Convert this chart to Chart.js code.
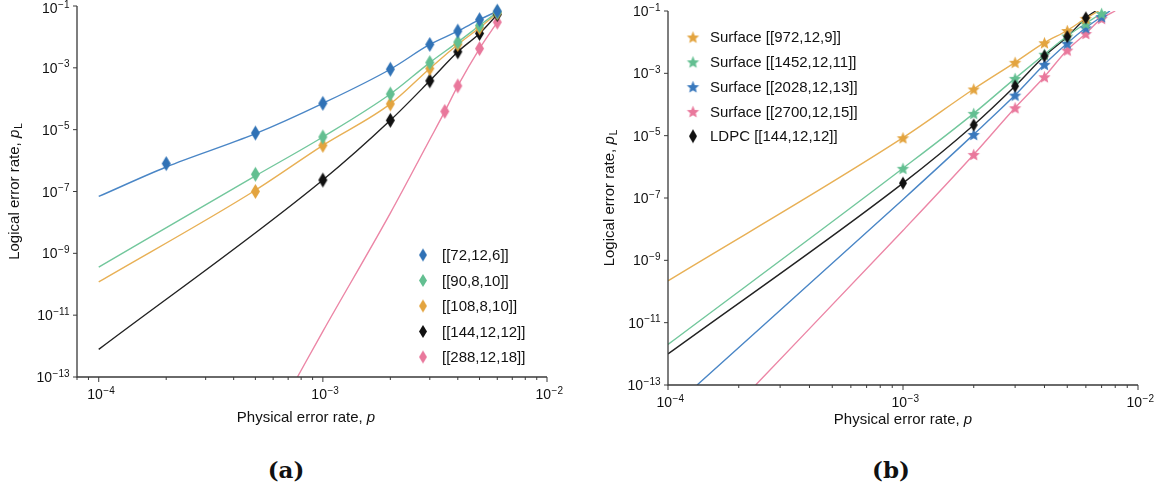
<!DOCTYPE html>
<html>
<head>
<meta charset="utf-8">
<script src="https://cdn.jsdelivr.net/npm/chart.js@4.4.1/dist/chart.umd.min.js"></script>
<style>
  html, body { margin: 0; padding: 0; background: #fff; }
  body { width: 1164px; height: 492px; position: relative; overflow: hidden; }
  #chartA { position: absolute; left: 0; top: 0; }
  #chartB { position: absolute; left: 590px; top: 0; }
  .cap { position: absolute; top: 456px; width: 80px; text-align: center; line-height: 28px;
         font: bold 23px "DejaVu Serif", serif; color: #111; }
</style>
</head>
<body>
<canvas id="chartA" width="580" height="440"></canvas>
<canvas id="chartB" width="574" height="440"></canvas>
<div class="cap" style="left:246px">(a)</div>
<div class="cap" style="left:851px">(b)</div>
<script>
// ---- panel (a): bivariate bicycle codes ----
const labelsA = ['[[72,12,6]]', '[[90,8,10]]', '[[108,8,10]]', '[[144,12,12]]', '[[288,12,18]]'];
const colorsA = ['#3072b6', '#63bf91', '#e3a43f', '#111111', '#e9789c'];

const p72 = [2e-4, 5e-4, 1e-3, 2e-3, 3e-3, 4e-3, 5e-3, 6e-3];
const pl72 = [8.0e-7, 7.8e-6, 7.1e-5, 9.0e-4, 5.7e-3, 1.54e-2, 3.6e-2, 6.8e-2];
const fitP72 = [1e-4, 2e-4, 5e-4, 1e-3, 2e-3, 3e-3, 4e-3, 5e-3, 6e-3];
const fitPl72 = [6.9e-8, 6.2e-7, 7.4e-6, 7.1e-5, 9.0e-4, 5.7e-3, 1.54e-2, 3.6e-2, 6.8e-2];

const p90 = [5e-4, 1e-3, 2e-3, 3e-3, 4e-3, 5e-3, 6e-3];
const pl90 = [3.6e-7, 5.8e-6, 1.42e-4, 1.48e-3, 6.8e-3, 2.33e-2, 6.3e-2];
const fitP90 = [1e-4, 5e-4, 1e-3, 2e-3, 3e-3, 4e-3, 5e-3, 6e-3];
const fitPl90 = [3.6e-10, 3.2e-7, 5.8e-6, 1.42e-4, 1.48e-3, 6.8e-3, 2.33e-2, 6.3e-2];

const p108 = [5e-4, 1e-3, 2e-3, 3e-3, 4e-3, 5e-3, 6e-3];
const pl108 = [1.0e-7, 3.1e-6, 6.8e-5, 9.5e-4, 5.7e-3, 1.97e-2, 5.96e-2];
const fitP108 = [1e-4, 5e-4, 1e-3, 2e-3, 3e-3, 4e-3, 5e-3, 6e-3];
const fitPl108 = [1.19e-10, 1.1e-7, 3.1e-6, 6.8e-5, 9.5e-4, 5.7e-3, 1.97e-2, 5.96e-2];

const p144 = [1e-3, 2e-3, 3e-3, 4e-3, 5e-3, 6e-3];
const pl144 = [2.35e-7, 2.0e-5, 3.8e-4, 3.3e-3, 1.29e-2, 5.3e-2];
const fitP144 = [1e-4, 1e-3, 2e-3, 3e-3, 4e-3, 5e-3, 6e-3];
const fitPl144 = [7.8e-13, 2.35e-7, 2.0e-5, 3.8e-4, 3.3e-3, 1.29e-2, 5.3e-2];

const p288 = [3.5e-3, 4e-3, 5e-3, 6e-3];
const pl288 = [3.9e-5, 2.6e-4, 4.2e-3, 3.0e-2];
const fitP288 = [7.7e-4, 1e-3, 2e-3, 3e-3, 3.5e-3, 4e-3, 5e-3, 6e-3];
const fitPl288 = [1e-13, 3.0e-12, 2.0e-8, 4.8e-6, 3.9e-5, 2.6e-4, 4.2e-3, 3.0e-2];

// ---- panel (b): surface codes vs LDPC ----
const labelsB = ['Surface [[972,12,9]]', 'Surface [[1452,12,11]]', 'Surface [[2028,12,13]]', 'Surface [[2700,12,15]]', 'LDPC [[144,12,12]]'];
const colorsB = ['#e3a43f', '#63bf91', '#3a79bd', '#e9789c', '#111111'];

const pS9 = [1e-3, 2e-3, 3e-3, 4e-3, 5e-3, 6e-3];
const plS9 = [8.6e-6, 3.15e-4, 2.26e-3, 9.6e-3, 2.37e-2, 5.8e-2];
const fitPS9 = [1e-4, 1e-3, 2e-3, 3e-3, 4e-3, 5e-3, 6e-3, 6.8e-3];
const fitPlS9 = [2.2e-10, 8.6e-6, 3.15e-4, 2.26e-3, 9.6e-3, 2.37e-2, 5.8e-2, 1e-1];

const pS11 = [1e-3, 2e-3, 3e-3, 4e-3, 5e-3, 6e-3, 7e-3];
const plS11 = [9.0e-7, 5.2e-5, 6.9e-4, 4.1e-3, 1.58e-2, 4.0e-2, 8.4e-2];
const fitPS11 = [1e-4, 1e-3, 2e-3, 3e-3, 4e-3, 5e-3, 6e-3, 7e-3, 7.3e-3];
const fitPlS11 = [2.0e-12, 9.0e-7, 5.2e-5, 6.9e-4, 4.1e-3, 1.58e-2, 4.0e-2, 8.4e-2, 1e-1];

const pS13 = [2e-3, 3e-3, 4e-3, 5e-3, 6e-3, 7e-3];
const plS13 = [1.1e-5, 2.0e-4, 1.95e-3, 9.2e-3, 2.9e-2, 6.6e-2];
const fitPS13 = [1.33e-4, 1e-3, 2e-3, 3e-3, 4e-3, 5e-3, 6e-3, 7e-3, 7.6e-3];
const fitPlS13 = [1e-13, 9.0e-8, 1.1e-5, 2.0e-4, 1.95e-3, 9.2e-3, 2.9e-2, 6.6e-2, 1e-1];

const pS15 = [2e-3, 3e-3, 4e-3, 5e-3, 6e-3, 7e-3];
const plS15 = [2.5e-6, 7.9e-5, 7.8e-4, 5.6e-3, 1.9e-2, 5.8e-2];
const fitPS15 = [2.36e-4, 1e-3, 2e-3, 3e-3, 4e-3, 5e-3, 6e-3, 7e-3, 8.0e-3];
const fitPlS15 = [1e-13, 9.1e-9, 2.5e-6, 7.9e-5, 7.8e-4, 5.6e-3, 1.9e-2, 5.8e-2, 1e-1];

const pLdpc = [1e-3, 2e-3, 3e-3, 4e-3, 5e-3, 6e-3];
const plLdpc = [3.0e-7, 2.2e-5, 3.9e-4, 3.6e-3, 1.5e-2, 6.0e-2];
const fitPLdpc = [1e-4, 1e-3, 2e-3, 3e-3, 4e-3, 5e-3, 6e-3, 6.6e-3];
const fitPlLdpc = [9.9e-13, 3.0e-7, 2.2e-5, 3.9e-4, 3.6e-3, 1.5e-2, 6.0e-2, 1e-1];

// axis ticks
const yTickExps = [-1, -3, -5, -7, -9, -11, -13];
const xTickExps = [-4, -3, -2];

const SANS = '"Liberation Sans", Arial, Helvetica, sans-serif';

function makeDiamond(color, w, h) {
    const c = document.createElement('canvas');
    c.width = w + 2; c.height = h + 2;
    const g = c.getContext('2d');
    g.fillStyle = color;
    g.beginPath();
    g.moveTo(c.width / 2, 1);
    g.lineTo(c.width - 1, c.height / 2);
    g.lineTo(c.width / 2, c.height - 1);
    g.lineTo(1, c.height / 2);
    g.closePath();
    g.fill();
    return c;
}

function makeStar(color, r) {
    const s = Math.ceil(r * 2 + 2);
    const c = document.createElement('canvas');
    c.width = s; c.height = s;
    const g = c.getContext('2d');
    g.fillStyle = color;
    g.beginPath();
    for (let i = 0; i < 10; i++) {
        const rad = i % 2 ? r * 0.45 : r;
        const ang = -Math.PI / 2 + i * Math.PI / 5;
        const px = s / 2 + rad * Math.cos(ang), py = s / 2 + 0.8 + rad * Math.sin(ang);
        i ? g.lineTo(px, py) : g.moveTo(px, py);
    }
    g.closePath();
    g.fill();
    return c;
}

const pts = (xs, ys) => xs.map((x, i) => ({ x, y: ys[i] }));

function fitLine(xs, ys, color) {
    return { data: pts(xs, ys), showLine: true, borderColor: color, borderWidth: 1.4,
             pointRadius: 0, cubicInterpolationMode: 'monotone', order: 2 };
}
function marks(xs, ys, img) {
    return { data: pts(xs, ys), showLine: false, pointStyle: img, pointRadius: 5, order: 1, clip: false };
}

function drawPow(ctx, exp, x, y, align) {
    const base = '10', sup = '\u2212' + Math.abs(exp);
    ctx.font = '14px ' + SANS;
    const wb = ctx.measureText(base).width;
    ctx.font = '10px ' + SANS;
    const ws = ctx.measureText(sup).width;
    const x0 = align === 'right' ? x - wb - ws : x - (wb + ws) / 2;
    ctx.textAlign = 'left';
    ctx.textBaseline = 'alphabetic';
    ctx.font = '14px ' + SANS;
    ctx.fillText(base, x0, y);
    ctx.font = '10px ' + SANS;
    ctx.fillText(sup, x0 + wb + 0.5, y - 5.5);
}

// plain text, then italic p, then optional subscript, centred at cx
function drawVarText(ctx, pre, sub, cx, y) {
    ctx.font = '15px ' + SANS;
    const w1 = ctx.measureText(pre).width;
    ctx.font = 'italic 15px ' + SANS;
    const w2 = ctx.measureText('p').width;
    ctx.font = '10px ' + SANS;
    const w3 = sub ? ctx.measureText(sub).width + 1 : 0;
    let x = cx - (w1 + w2 + w3) / 2;
    ctx.textAlign = 'left';
    ctx.textBaseline = 'alphabetic';
    ctx.font = '15px ' + SANS;
    ctx.fillText(pre, x, y);
    x += w1;
    ctx.font = 'italic 15px ' + SANS;
    ctx.fillText('p', x, y);
    x += w2 + 1;
    if (sub) {
        ctx.font = '10px ' + SANS;
        ctx.fillText(sub, x, y + 3);
    }
}

const frame = {
    id: 'frame',
    afterDraw(chart, args, o) {
        const { ctx, chartArea: a } = chart;
        const xs = chart.scales.x, ys = chart.scales.y;
        ctx.save();
        ctx.strokeStyle = '#3a3a3a';
        ctx.fillStyle = '#111';
        ctx.lineWidth = 1.3;
        ctx.beginPath();
        ctx.moveTo(a.left, a.top);
        ctx.lineTo(a.left, a.bottom);
        ctx.lineTo(a.right, a.bottom);
        ctx.stroke();

        ctx.lineWidth = 1;
        yTickExps.forEach(e => {
            const py = ys.getPixelForValue(Math.pow(10, e));
            ctx.beginPath(); ctx.moveTo(a.left - 4, py); ctx.lineTo(a.left, py); ctx.stroke();
            drawPow(ctx, e, a.left - 8, Math.max(py, 8) + 5, 'right');
        });
        for (let d = -5; d <= -2; d++) {
            for (let m = 1; m <= 9; m++) {
                const v = m * Math.pow(10, d);
                if (v < xs.min * 0.999 || v > xs.max * 1.001) continue;
                const px = xs.getPixelForValue(v);
                ctx.beginPath(); ctx.moveTo(px, a.bottom); ctx.lineTo(px, a.bottom + (m === 1 ? 5 : 3)); ctx.stroke();
            }
        }
        xTickExps.forEach(e => drawPow(ctx, e, xs.getPixelForValue(Math.pow(10, e)) + 2, a.bottom + 22, 'center'));

        drawVarText(ctx, 'Physical error rate, ', '', o.xTitleX, o.xTitleY);
        ctx.save();
        ctx.translate(o.yTitleX, (a.top + a.bottom) / 2);
        ctx.rotate(-Math.PI / 2);
        drawVarText(ctx, 'Logical error rate, ', 'L', 0, 0);
        ctx.restore();

        // legend inside the plot
        const L = o.legend;
        ctx.font = '15px ' + SANS;
        ctx.textAlign = 'left';
        ctx.textBaseline = 'middle';
        L.items.forEach((it, i) => {
            const y = L.y0 + i * L.dy;
            ctx.drawImage(it.img, L.mx - it.img.width / 2, y - it.img.height / 2);
            ctx.fillStyle = '#111';
            ctx.fillText(it.label, L.tx, y + 1);
        });
        ctx.restore();
    }
};

const baseOpts = (pad, xmin, plug) => ({
    responsive: false,
    animation: false,
    events: [],
    layout: { padding: pad },
    plugins: { legend: { display: false }, tooltip: { enabled: false }, frame: plug },
    scales: {
        x: { type: 'logarithmic', min: xmin, max: 1e-2, display: false },
        y: { type: 'logarithmic', min: 1e-13, max: 1e-1, display: false }
    }
});

// panel (a)
const diaA = colorsA.map(c => makeDiamond(c, 9, 15));
const legDiaA = colorsA.map(c => makeDiamond(c, 8, 13));
new Chart(document.getElementById('chartA'), {
    type: 'scatter',
    data: {
        datasets: [
            marks(p72, pl72, diaA[0]), marks(p90, pl90, diaA[1]), marks(p108, pl108, diaA[2]),
            marks(p144, pl144, diaA[3]), marks(p288, pl288, diaA[4]),
            fitLine(fitP72, fitPl72, '#4a86c6'), fitLine(fitP90, fitPl90, '#72c79c'),
            fitLine(fitP108, fitPl108, '#e8b055'), fitLine(fitP144, fitPl144, '#222222'),
            fitLine(fitP288, fitPl288, '#ec86a6')
        ]
    },
    options: baseOpts({ left: 77, top: 3, right: 33, bottom: 63 }, 8e-5, {
        xTitleX: 306, xTitleY: 422, yTitleX: 19,
        legend: { mx: 423, tx: 442, y0: 255, dy: 25.5,
                  items: labelsA.map((l, i) => ({ label: l, img: legDiaA[i] })) }
    }),
    plugins: [frame]
});

// panel (b)
const starB = colorsB.slice(0, 4).map(c => makeStar(c, 6.5));
const legStarB = colorsB.slice(0, 4).map(c => makeStar(c, 6.5));
const diaB = makeDiamond('#111111', 8, 13);
const legB = legStarB.concat([makeDiamond('#111111', 8, 14)]);
new Chart(document.getElementById('chartB'), {
    type: 'scatter',
    data: {
        datasets: [
            marks(pLdpc, plLdpc, diaB),
            marks(pS9, plS9, starB[0]), marks(pS11, plS11, starB[1]),
            marks(pS13, plS13, starB[2]), marks(pS15, plS15, starB[3]),
            fitLine(fitPS9, fitPlS9, '#e8b055'), fitLine(fitPS11, fitPlS11, '#72c79c'),
            fitLine(fitPS13, fitPlS13, '#4a86c6'), fitLine(fitPS15, fitPlS15, '#ec86a6'),
            fitLine(fitPLdpc, fitPlLdpc, '#222222')
        ]
    },
    options: baseOpts({ left: 78, top: 11, right: 26, bottom: 55 }, 1e-4, {
        xTitleX: 313, xTitleY: 424, yTitleX: 24,
        legend: { mx: 103, tx: 120, y0: 37, dy: 24.8,
                  items: labelsB.map((l, i) => ({ label: l, img: legB[i] })) }
    }),
    plugins: [frame]
});
</script>
</body>
</html>
